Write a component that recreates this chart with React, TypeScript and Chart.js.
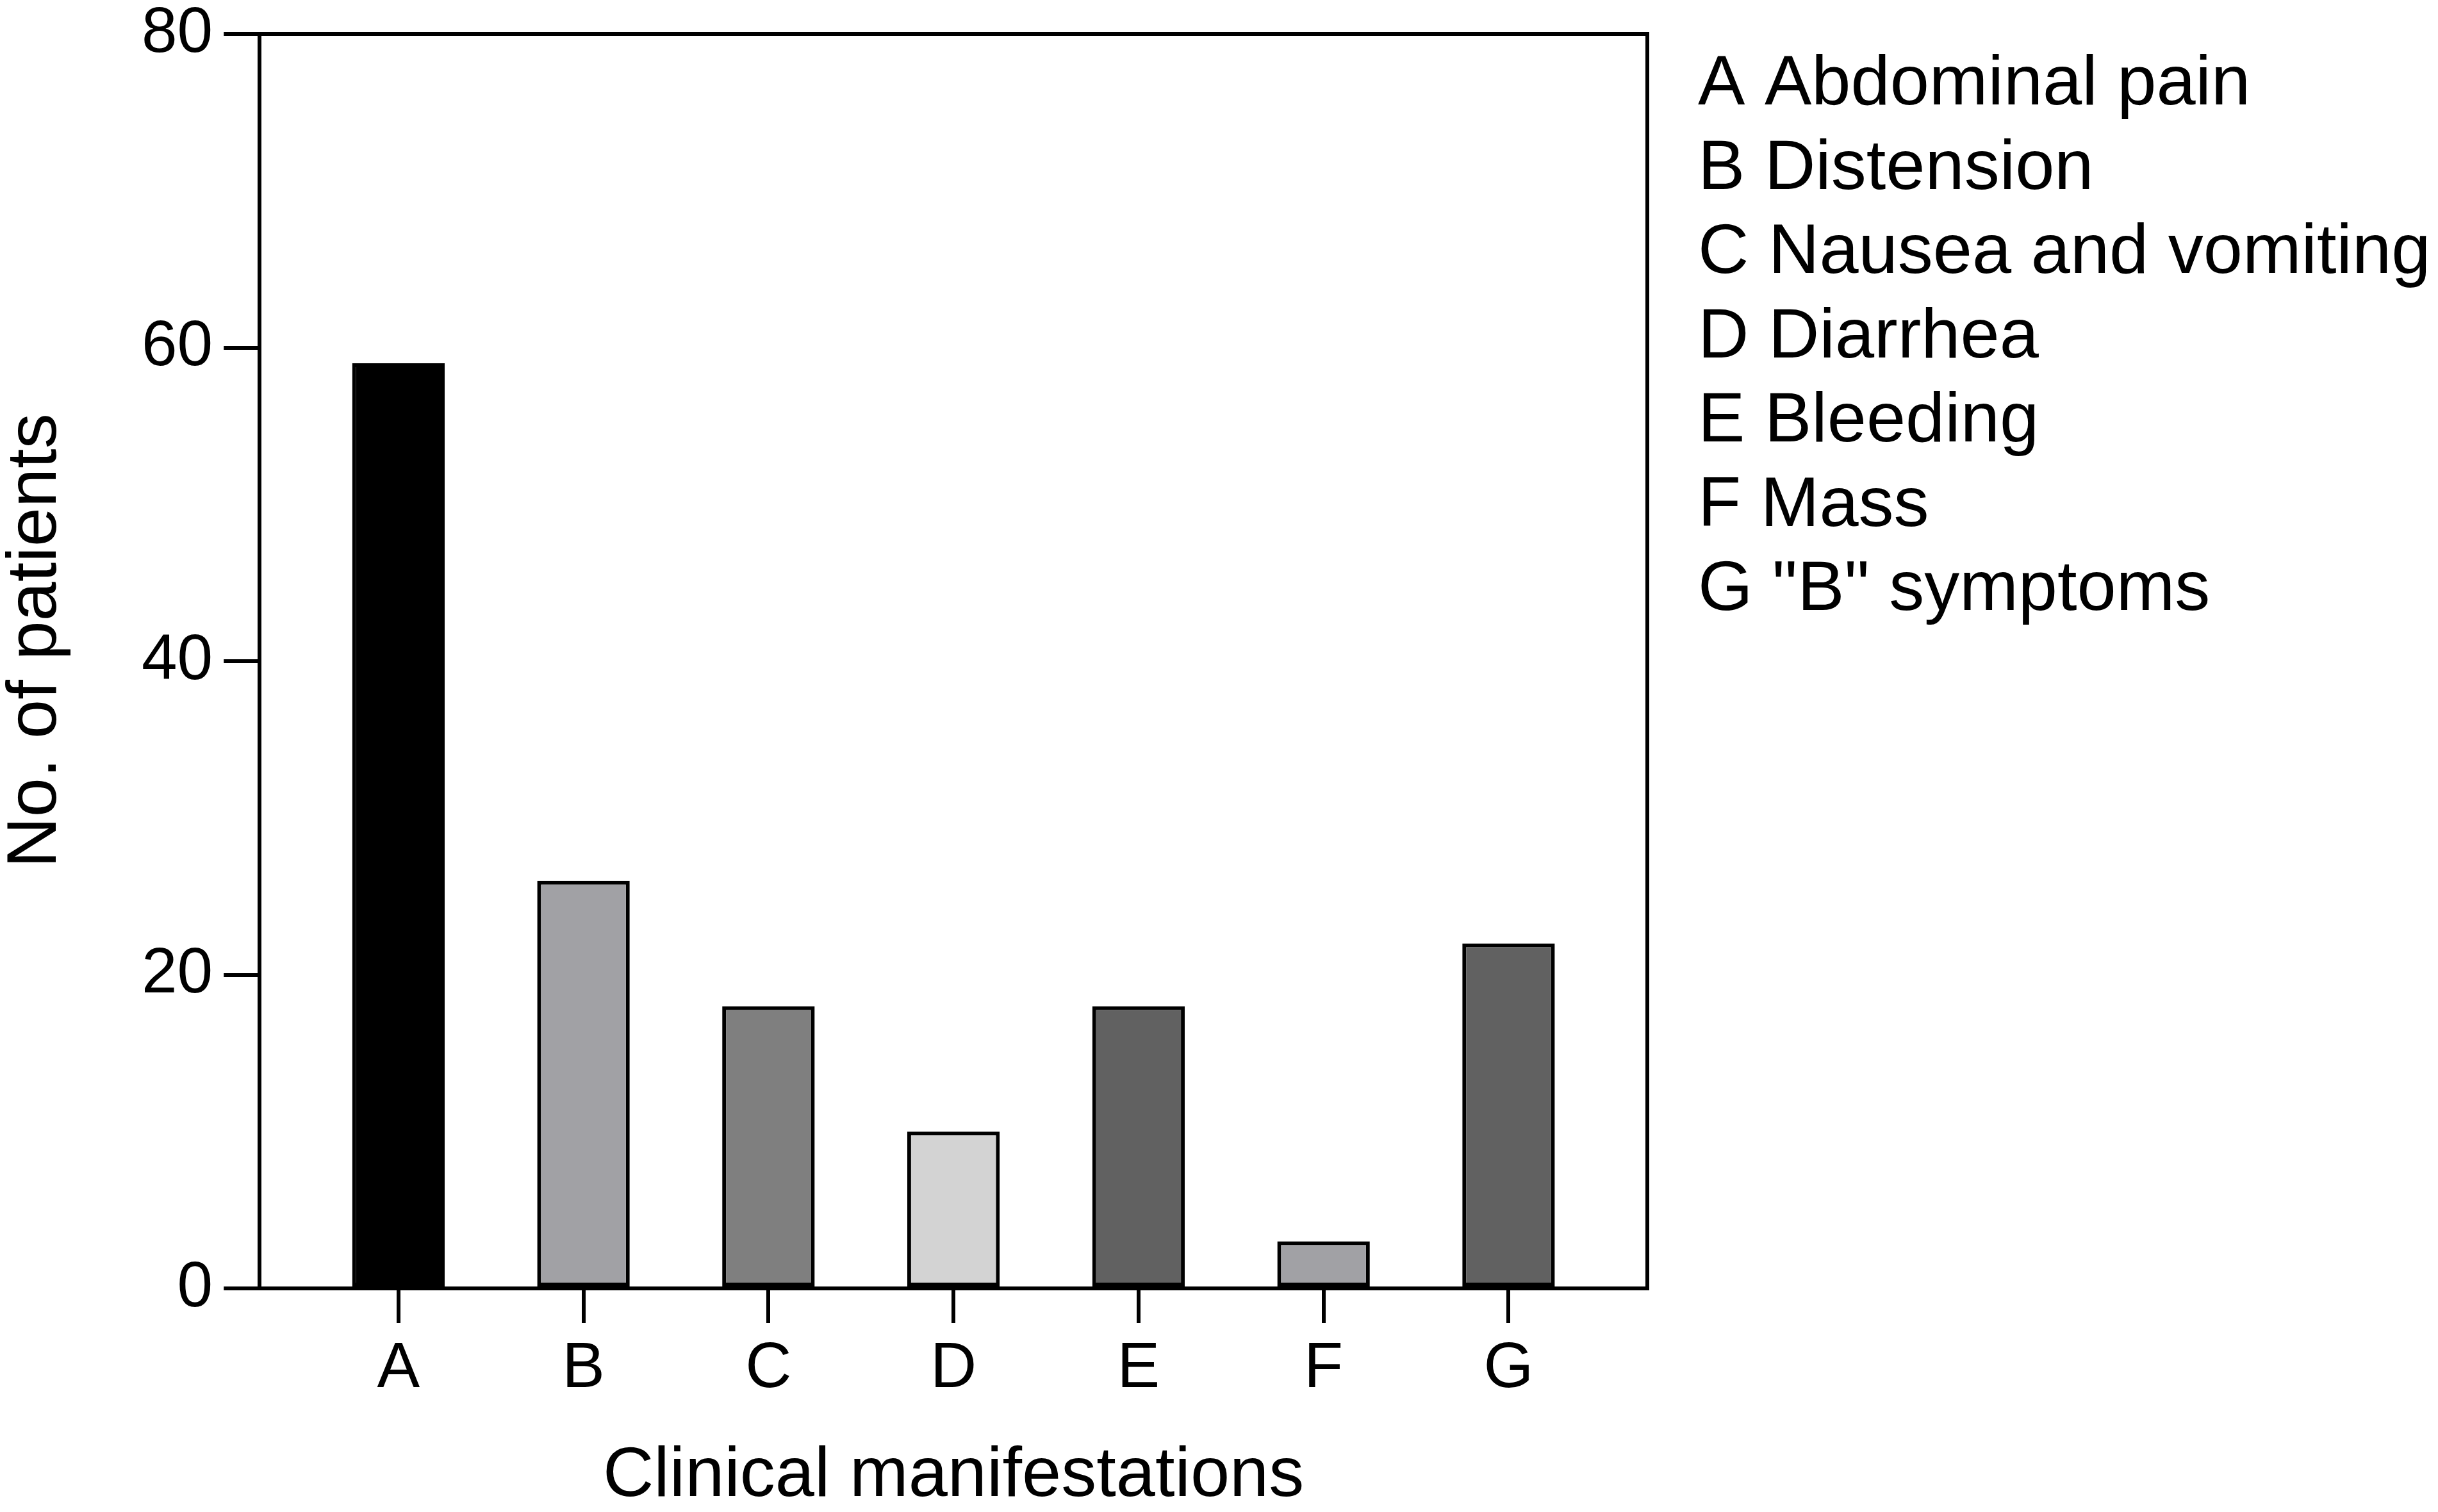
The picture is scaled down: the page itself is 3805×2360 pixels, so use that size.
import { useEffect, useRef } from 'react'
import { Chart, registerables } from 'chart.js'

Chart.register(...registerables)

const categories = ['A', 'B', 'C', 'D', 'E', 'F', 'G']
const descriptions = ['Abdominal pain', 'Distension', 'Nausea and vomiting', 'Diarrhea', 'Bleeding', 'Mass', '"B" symptoms']
const patients = [59, 26, 18, 10, 18, 3, 22]
const barColors = ['#000000', '#a1a1a5', '#7f7f7f', '#d3d3d3', '#616161', '#a1a1a5', '#616161']
const yTicks = [0, 20, 40, 60, 80]
const yTitle = 'No. of patients'

const FONT = '"Liberation Sans", Arial, Helvetica, sans-serif'

// top and right sides of the frame, the y title (sits a bit above centre) and the key
const framePlugin = {
  id: 'frameAndKey',
  afterDraw(chart: any) {
    const { ctx, chartArea } = chart
    ctx.save()
    ctx.strokeStyle = '#000'
    ctx.lineWidth = 6
    ctx.beginPath()
    ctx.moveTo(chartArea.left, chartArea.top)
    ctx.lineTo(chartArea.right, chartArea.top)
    ctx.lineTo(chartArea.right, chartArea.bottom)
    ctx.stroke()

    ctx.fillStyle = '#000'
    ctx.font = `110px ${FONT}`

    ctx.save()
    ctx.translate(57, 1000)
    ctx.rotate(-Math.PI / 2)
    ctx.textAlign = 'center'
    ctx.textBaseline = 'middle'
    ctx.fillText(yTitle, 0, 0)
    ctx.restore()

    ctx.textAlign = 'left'
    ctx.textBaseline = 'alphabetic'
    categories.forEach((c, i) => {
      ctx.fillText(`${c} ${descriptions[i]}`, chartArea.right + 79, chartArea.top + 110 + i * 131.5)
    })
    ctx.restore()
  },
}

export default function App() {
  const canvasRef = useRef<HTMLCanvasElement>(null)

  useEffect(() => {
    if (!canvasRef.current) return
    Chart.defaults.font.family = FONT
    Chart.defaults.color = '#000'

    const chart = new Chart(canvasRef.current, {
      type: 'bar',
      data: {
        datasets: [{
          data: patients.map((v, i) => ({ x: i, y: v })),
          backgroundColor: barColors,
          borderColor: '#000',
          borderWidth: 6,
          borderSkipped: false,
          barPercentage: 0.5,
          categoryPercentage: 1,
        }],
      },
      options: {
        responsive: false,
        animation: false,
        devicePixelRatio: 1,
        layout: { padding: { top: 53, right: 1234, bottom: 0, left: 204 } },
        plugins: {
          legend: { display: false },
          tooltip: { enabled: false },
        },
        scales: {
          x: {
            type: 'linear',
            min: -0.75,
            max: 6.75,
            offset: false,
            afterBuildTicks: (scale: any) => {
              scale.ticks = categories.map((_, i) => ({ value: i }))
            },
            ticks: {
              autoSkip: false,
              font: { size: 100, lineHeight: 1.2 },
              padding: 12,
              callback: (v: any) => categories[v] ?? '',
            },
            grid: {
              offset: false,
              drawOnChartArea: false,
              color: '#000',
              lineWidth: 6,
              tickWidth: 6,
              tickLength: 54,
              tickColor: '#000',
            },
            border: { color: '#000', width: 6 },
            title: {
              display: true,
              text: 'Clinical manifestations',
              font: { size: 110, lineHeight: 1 },
              padding: { top: 41, bottom: 0 },
            },
          },
          y: {
            min: 0,
            max: 80,
            afterBuildTicks: (scale: any) => {
              scale.ticks = yTicks.map((v) => ({ value: v }))
            },
            ticks: {
              font: { size: 100, lineHeight: 0.7 },
              padding: 17,
            },
            grid: {
              drawOnChartArea: false,
              color: '#000',
              lineWidth: 6,
              tickWidth: 6,
              tickLength: 56,
              tickColor: '#000',
            },
            border: { color: '#000', width: 6 },
          },
        },
      },
      plugins: [framePlugin],
    })

    return () => chart.destroy()
  }, [])

  return (
    <div style={{ position: 'fixed', left: 0, top: 0, width: 3805, height: 2360, background: '#fff' }}>
      <canvas ref={canvasRef} width={3805} height={2360} style={{ display: 'block' }}></canvas>
    </div>
  )
}
